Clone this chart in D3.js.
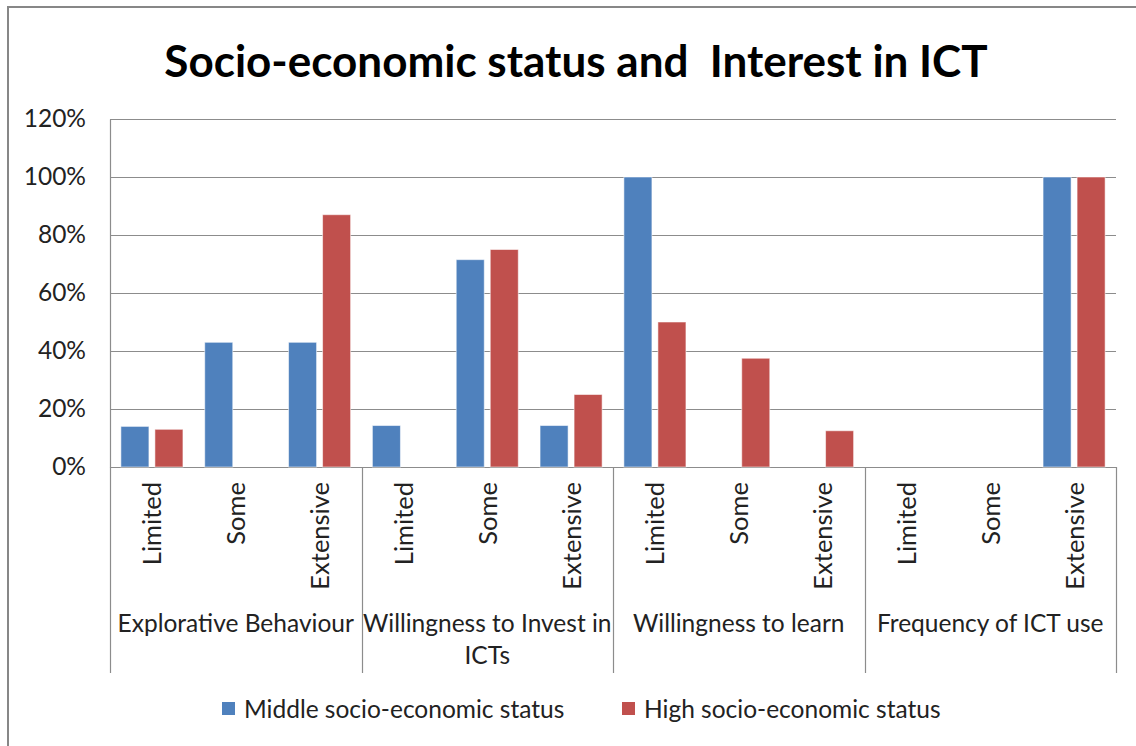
<!DOCTYPE html>
<html>
<head>
<meta charset="utf-8">
<script src="https://cdn.jsdelivr.net/npm/d3@7"></script>
<style>
  html, body { margin: 0; padding: 0; background: #fff; }
  svg { display: block; font-family: Lato, "Open Sans", sans-serif; }
</style>
</head>
<body>
<svg id="chart" width="1136" height="746"></svg>
<script>
// Data
const groups = ["Explorative Behaviour", "Willingness to Invest in ICTs", "Willingness to learn", "Frequency of ICT use"];
const levels = ["Limited", "Some", "Extensive"];
const seriesNames = ["Middle socio-economic status", "High socio-economic status"];
const middleValues = [0.14, 0.43, 0.43, 0.143, 0.715, 0.143, 1.0, 0, 0, 0, 0, 1.0];
const highValues = [0.13, 0, 0.87, 0, 0.75, 0.25, 0.5, 0.375, 0.125, 0, 0, 1.0];
const yTicks = [0, 0.2, 0.4, 0.6, 0.8, 1.0, 1.2];
const colors = ["#4F81BD", "#C0504D"];

const svg = d3.select("#chart");
const plot = { left: 110, right: 1116, top: 119, bottom: 467 };

// Each slot is one (group, level) pair
const slots = [];
groups.forEach((g, gi) => levels.forEach((l, li) => slots.push({ key: gi + "|" + li, group: g, level: l, gi, li })));
slots.forEach((s, i) => { s.values = [middleValues[i], highValues[i]]; });

const x = d3.scaleBand().domain(slots.map(s => s.key)).range([plot.left, plot.right]).padding(0);
const xs = d3.scaleBand().domain([0, 1]).range([0, x.bandwidth()]).paddingInner(0.176).paddingOuter(0.32);
const y = d3.scaleLinear().domain([0, 1.2]).range([plot.bottom, plot.top]);

// Outer frame (top and left edges)
svg.append("line").attr("x1", 7).attr("x2", 1136).attr("y1", 7).attr("y2", 7)
  .attr("stroke", "#878787").attr("stroke-width", 2);
svg.append("line").attr("x1", 8).attr("x2", 8).attr("y1", 6).attr("y2", 746)
  .attr("stroke", "#878787").attr("stroke-width", 2);

// Title
svg.append("text")
  .attr("x", 576).attr("y", 77)
  .attr("text-anchor", "middle")
  .style("white-space", "pre")
  .attr("font-size", 44).attr("font-weight", "bold").attr("fill", "#000")
  .text("Socio-economic status and  Interest in ICT");

// Gridlines
svg.append("g").selectAll("line").data(yTicks).join("line")
  .attr("x1", plot.left).attr("x2", plot.right)
  .attr("y1", d => Math.round(y(d)) + 0.5).attr("y2", d => Math.round(y(d)) + 0.5)
  .attr("stroke", "#8c8c8c").attr("stroke-width", 1.2);

// Y axis
const yAxis = svg.append("g").attr("transform", `translate(${plot.left},0)`)
  .call(d3.axisLeft(y).tickValues(yTicks).tickFormat(d3.format(".0%")).tickSize(0).tickPadding(24));
yAxis.select(".domain").attr("stroke", "#8c8c8c").attr("stroke-width", 1.2);
yAxis.selectAll("text").attr("font-size", 24.5).attr("fill", "#222").attr("font-family", "Lato, sans-serif");

// Bars
const slotG = svg.append("g").selectAll("g").data(slots).join("g")
  .attr("transform", d => `translate(${x(d.key)},0)`);
slotG.selectAll("rect").data(d => d.values.map((v, si) => ({ v, si })).filter(e => e.v > 0)).join("rect")
  .attr("x", d => xs(d.si))
  .attr("width", xs.bandwidth())
  .attr("y", d => y(d.v))
  .attr("height", d => y(0) - y(d.v))
  .attr("fill", d => colors[d.si])
  .attr("stroke", "rgba(255,255,255,0.55)").attr("stroke-width", 1);

// Group dividers below the axis
const groupEdges = d3.range(groups.length + 1).map(i => i === groups.length ? plot.right : x(i + "|0"));
svg.append("g").selectAll("line").data(groupEdges).join("line")
  .attr("x1", d => Math.round(d) + 0.5).attr("x2", d => Math.round(d) + 0.5)
  .attr("y1", plot.bottom).attr("y2", 673)
  .attr("stroke", "#8c8c8c").attr("stroke-width", 1.2);

// Level labels (rotated)
svg.append("g").selectAll("text").data(slots).join("text")
  .attr("transform", d => `translate(${x(d.key) + x.bandwidth() / 2 + 9.5},482) rotate(-90)`)
  .attr("text-anchor", "end")
  .attr("font-size", 25.5).attr("fill", "#222")
  .text(d => d.level);

// Group labels (wrapped to group width)
const groupLines = [["Explorative Behaviour"], ["Willingness to Invest in", "ICTs"], ["Willingness to learn"], ["Frequency of ICT use"]];
groups.forEach((g, gi) => {
  const cx = (groupEdges[gi] + groupEdges[gi + 1]) / 2;
  const t = svg.append("text").attr("text-anchor", "middle").attr("font-size", 24.5).attr("fill", "#222");
  groupLines[gi].forEach((line, li) => {
    t.append("tspan").attr("x", cx).attr("y", 632 + li * 32).text(line);
  });
});

// Legend
const legendX = [222, 622];
const legend = svg.append("g").selectAll("g").data(seriesNames).join("g")
  .attr("transform", (d, i) => `translate(${legendX[i]},702)`);
legend.append("rect").attr("width", 13).attr("height", 13).attr("fill", (d, i) => colors[i]);
legend.append("text").attr("x", 22).attr("y", 16).attr("font-size", 24.5).attr("fill", "#222").text(d => d);
</script>
</body>
</html>
